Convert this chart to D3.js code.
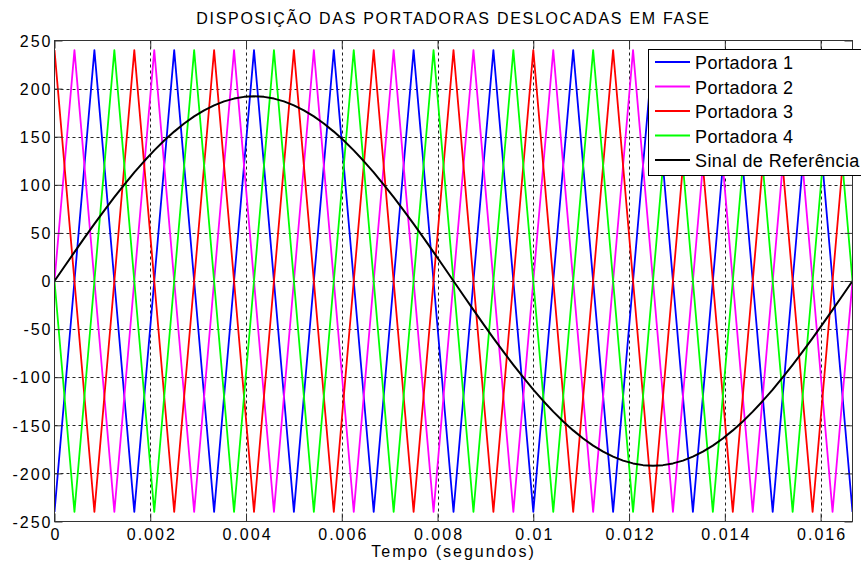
<!DOCTYPE html>
<html><head><meta charset="utf-8">
<script src="https://cdn.jsdelivr.net/npm/d3@7"></script>
<style>
body{margin:0;background:#fff;}
svg{display:block;font-family:"Liberation Sans",Arial,Helvetica,sans-serif;}
</style>
</head><body>
<svg id="chart" width="861" height="565"></svg>
<script>
// ---------------- DATA ----------------
const title = "DISPOSIÇÃO DAS PORTADORAS DESLOCADAS EM FASE";
const xLabel = "Tempo (segundos)";
const xDomain = [0, 1/60];
const yDomain = [-250, 250];
const xTicks = [0, 0.002, 0.004, 0.006, 0.008, 0.01, 0.012, 0.014, 0.016];
const xTickLabels = ["0", "0.002", "0.004", "0.006", "0.008", "0.01", "0.012", "0.014", "0.016"];
const yTicks = [-250, -200, -150, -100, -50, 0, 50, 100, 150, 200, 250];
const yTickLabels = ["-250", "-200", "-150", "-100", "-50", "0", "50", "100", "150", "200", "250"];
const seriesNames = ["Portadora 1", "Portadora 2", "Portadora 3", "Portadora 4", "Sinal de Referência"];
const seriesColors = ["#0000ff", "#ff00ff", "#ff0000", "#00ff00", "#000000"];

// carriers sampled every 1/2400 s (quarter of a 600 Hz carrier period)
const carrierStep = 1 / 2400;
const portadora1 = [-240,0,240,0,-240,0,240,0,-240,0,240,0,-240,0,240,0,-240,0,240,0,-240,0,240,0,-240,0,240,0,-240,0,240,0,-240,0,240,0,-240,0,240,0,-240];
const portadora2 = [0,240,0,-240,0,240,0,-240,0,240,0,-240,0,240,0,-240,0,240,0,-240,0,240,0,-240,0,240,0,-240,0,240,0,-240,0,240,0,-240,0,240,0,-240,0];
const portadora3 = [240,0,-240,0,240,0,-240,0,240,0,-240,0,240,0,-240,0,240,0,-240,0,240,0,-240,0,240,0,-240,0,240,0,-240,0,240,0,-240,0,240,0,-240,0,240];
const portadora4 = [0,-240,0,240,0,-240,0,240,0,-240,0,240,0,-240,0,240,0,-240,0,240,0,-240,0,240,0,-240,0,240,0,-240,0,240,0,-240,0,240,0,-240,0,240,0];

// reference signal sampled every 1/4800 s
const refStep = 1 / 4800;
const referencia = [
  0, 15.1, 30.0, 44.8, 59.3, 73.5, 87.2, 100.3, 112.9, 124.7,
  135.8, 146.0, 155.3, 163.7, 171.1, 177.4, 182.6, 186.7, 189.6, 191.4,
  192.0, 191.4, 189.6, 186.7, 182.6, 177.4, 171.1, 163.7, 155.3, 146.0,
  135.8, 124.7, 112.9, 100.3, 87.2, 73.5, 59.3, 44.8, 30.0, 15.1,
  0, -15.1, -30.0, -44.8, -59.3, -73.5, -87.2, -100.3, -112.9, -124.7,
  -135.8, -146.0, -155.3, -163.7, -171.1, -177.4, -182.6, -186.7, -189.6, -191.4,
  -192.0, -191.4, -189.6, -186.7, -182.6, -177.4, -171.1, -163.7, -155.3, -146.0,
  -135.8, -124.7, -112.9, -100.3, -87.2, -73.5, -59.3, -44.8, -30.0, -15.1, 0
];

// ---------------- LAYOUT ----------------
const W = 861, H = 565;
const L = 54.5, R = 852.5, T = 40.5, B = 521.5;
const tickFont = 16, tickLS = 2;

const svg = d3.select("#chart");
svg.append("rect").attr("width", W).attr("height", H).attr("fill", "#fff");

const x = d3.scaleLinear().domain(xDomain).range([L, R]);
const y = d3.scaleLinear().domain(yDomain).range([B, T]);

// grid
const grid = svg.append("g").attr("stroke", "#222").attr("stroke-width", 1).attr("stroke-dasharray", "3,3");
grid.selectAll("line.gx").data(xTicks.filter(d => d > xDomain[0] && d < xDomain[1]))
  .join("line").attr("class", "gx")
  .attr("x1", d => Math.round(x(d)) + 0.5).attr("x2", d => Math.round(x(d)) + 0.5)
  .attr("y1", T).attr("y2", B);
grid.selectAll("line.gy").data(yTicks.filter(d => d > yDomain[0] && d < yDomain[1]))
  .join("line").attr("class", "gy")
  .attr("y1", d => Math.round(y(d)) + 0.5).attr("y2", d => Math.round(y(d)) + 0.5)
  .attr("x1", L).attr("x2", R);

// lines
svg.append("clipPath").attr("id", "clip").append("rect")
  .attr("x", L).attr("y", T).attr("width", R - L).attr("height", B - T);
const plot = svg.append("g").attr("clip-path", "url(#clip)");
const line = d3.line().x(d => x(d[0])).y(d => y(d[1]));

const carriers = [portadora1, portadora2, portadora3, portadora4];
carriers.forEach((arr, i) => {
  const pts = arr.map((v, k) => [k * carrierStep, v]);
  plot.append("path").datum(pts)
    .attr("d", line).attr("fill", "none")
    .attr("stroke", seriesColors[i]).attr("stroke-width", 1.8)
    .attr("stroke-linejoin", "round");
});
const refPts = referencia.map((v, k) => [k * refStep, v]);
plot.append("path").datum(refPts)
  .attr("d", line).attr("fill", "none")
  .attr("stroke", seriesColors[4]).attr("stroke-width", 2)
  .attr("stroke-linejoin", "round");

// axes (ticks inward)
function styleAxis(g) {
  g.select(".domain").remove();
  g.selectAll(".tick line").attr("stroke", "#333");
  g.selectAll(".tick text")
    .attr("fill", "#000")
    .style("font-size", tickFont + "px")
    .style("letter-spacing", tickLS + "px")
    .style("font-family", '"Liberation Sans",Arial,sans-serif');
}
const xb = svg.append("g").attr("transform", `translate(0,${B})`)
  .call(d3.axisBottom(x).tickValues(xTicks).tickFormat((d, i) => xTickLabels[i]).tickSize(-8).tickPadding(7));
styleAxis(xb);
xb.selectAll(".tick text").attr("dx", tickLS / 2);
const xt = svg.append("g").attr("transform", `translate(0,${T})`)
  .call(d3.axisTop(x).tickValues(xTicks).tickFormat("").tickSize(-8));
styleAxis(xt);
const yl = svg.append("g").attr("transform", `translate(${L},0)`)
  .call(d3.axisLeft(y).tickValues(yTicks).tickFormat((d, i) => yTickLabels[i]).tickSize(-8).tickPadding(2));
styleAxis(yl);
yl.selectAll(".tick text").attr("dy", "0.36em");
const yr = svg.append("g").attr("transform", `translate(${R},0)`)
  .call(d3.axisRight(y).tickValues(yTicks).tickFormat("").tickSize(-8));
styleAxis(yr);

// box
svg.append("rect").attr("x", L).attr("y", T).attr("width", R - L).attr("height", B - T)
  .attr("fill", "none").attr("stroke", "#333").attr("stroke-width", 1);

// title & label
svg.append("text").attr("x", (L + R) / 2).attr("y", 24).attr("text-anchor", "middle")
  .style("font-size", "16px").style("letter-spacing", "1.7px").text(title);
svg.append("text").attr("x", (L + R) / 2).attr("y", 557).attr("text-anchor", "middle")
  .style("font-size", "16px").style("letter-spacing", "2px").text(xLabel);

// legend
const lg = svg.append("g");
lg.append("rect").attr("x", 648.5).attr("y", 49.5).attr("width", 240).attr("height", 126)
  .attr("fill", "#fff").attr("stroke", "#000").attr("stroke-width", 1);
seriesNames.forEach((name, i) => {
  const ry = 62 + i * 24.5;
  lg.append("line").attr("x1", 655).attr("x2", 690).attr("y1", ry).attr("y2", ry)
    .attr("stroke", seriesColors[i]).attr("stroke-width", 1.8);
  lg.append("text").attr("x", 695).attr("y", ry + 7)
    .style("font-size", "18px").style("letter-spacing", "0.4px").text(name);
});
</script>
</body></html>
